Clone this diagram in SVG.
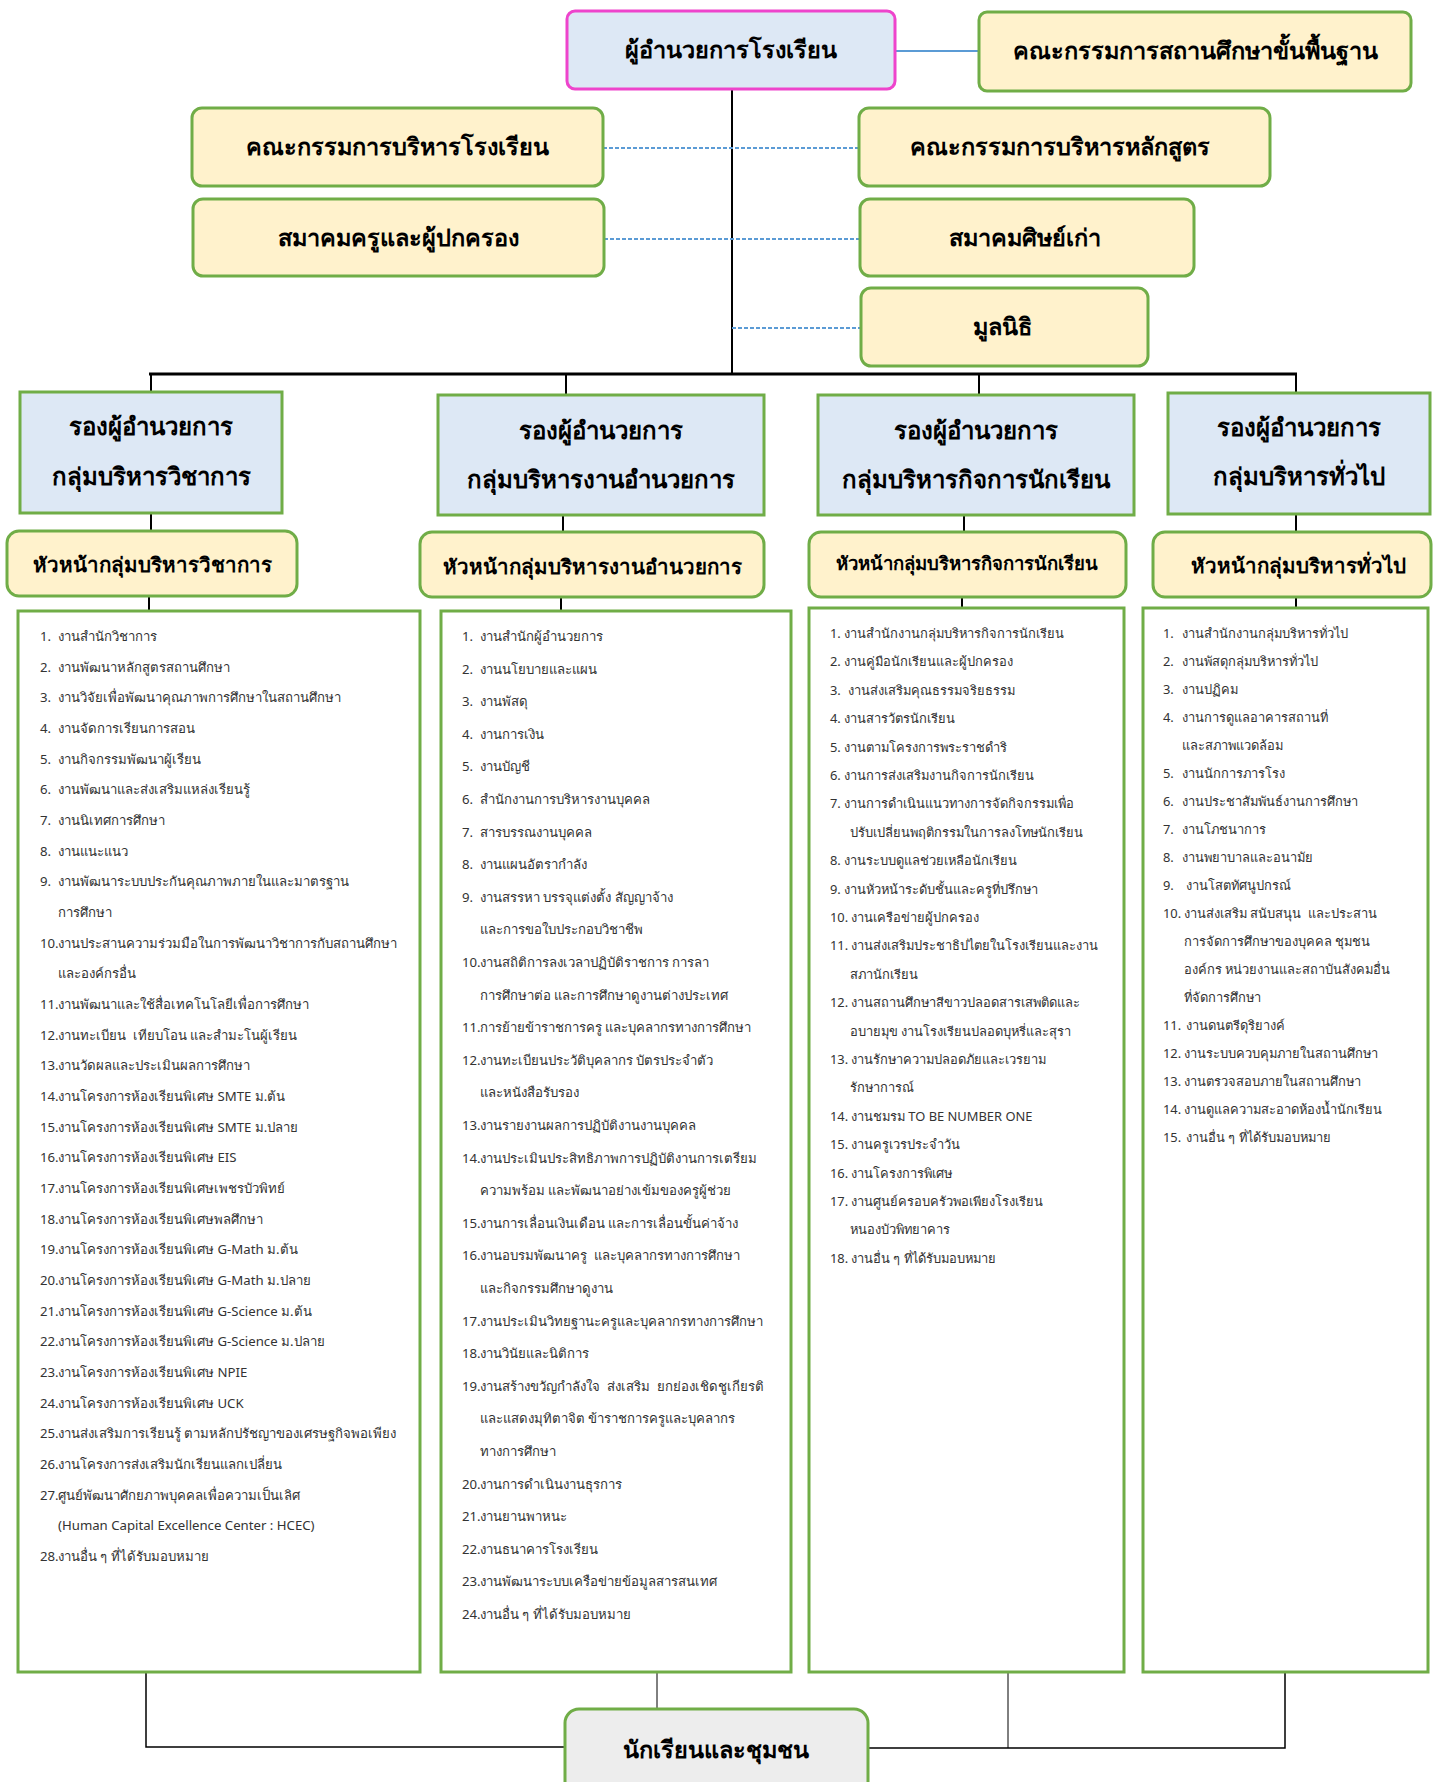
<svg xmlns="http://www.w3.org/2000/svg" width="1433" height="1782" viewBox="0 0 1433 1782">
<style>
.cream{fill:#fff2cc;stroke:#70ad47;stroke-width:3}
.blue{fill:#dde8f5;stroke:#70ad47;stroke-width:3}
.list{fill:#ffffff;stroke:#70ad47;stroke-width:3}
.ln{stroke:#000;stroke-width:2;fill:none}
.dash{stroke:#5b9bd5;stroke-width:2;stroke-dasharray:4 2;fill:none}
.h{font-family:"Noto Sans",sans-serif;font-weight:bold;fill:#000;text-anchor:middle}
.t{font-family:"Noto Sans",sans-serif;fill:#333;font-size:12.9px}
.wide .t{font-size:13.2px}
</style>
<g id="connectors">
<line class="ln" x1="732" y1="89" x2="732" y2="374"/>
<line x1="895" y1="51" x2="979" y2="51" stroke="#5b9bd5" stroke-width="2"/>
<line class="dash" x1="603" y1="148" x2="859" y2="148"/>
<line class="dash" x1="604" y1="239" x2="860" y2="239"/>
<line class="dash" x1="732" y1="328" x2="861" y2="328"/>
<line x1="149" y1="374" x2="1297" y2="374" stroke="#000" stroke-width="3"/>
<line class="ln" x1="151" y1="374" x2="151" y2="392"/>
<line class="ln" x1="566" y1="374" x2="566" y2="395"/>
<line class="ln" x1="979" y1="374" x2="979" y2="395"/>
<line class="ln" x1="1296" y1="374" x2="1296" y2="393"/>
<line class="ln" x1="151" y1="513" x2="151" y2="531"/>
<line class="ln" x1="563" y1="515" x2="563" y2="532"/>
<line class="ln" x1="964" y1="515" x2="964" y2="532"/>
<line class="ln" x1="1296" y1="514" x2="1296" y2="532"/>
<line class="ln" x1="149" y1="596" x2="149" y2="611"/>
<line class="ln" x1="561" y1="597" x2="561" y2="611"/>
<line class="ln" x1="962" y1="597" x2="962" y2="608"/>
<line class="ln" x1="1296" y1="597" x2="1296" y2="608"/>
<polyline points="146,1673 146,1747 565,1747" fill="none" stroke="#000" stroke-width="1.5"/>
<line x1="657" y1="1673" x2="657" y2="1709" stroke="#000" stroke-width="1"/>
<line x1="1008" y1="1673" x2="1008" y2="1748" stroke="#000" stroke-width="1"/>
<polyline points="1285,1673 1285,1748 868,1748" fill="none" stroke="#000" stroke-width="1.5"/>
</g>
<g id="director"><rect x="567" y="11" width="328" height="78" rx="8" fill="#dde8f5" stroke="#ee44cc" stroke-width="3"/><text class="h" x="731" y="58" font-size="23.5">ผู้อำนวยการโรงเรียน</text></g>
<g id="basic-board"><rect class="cream" x="979" y="12" width="432" height="79" rx="8"/><text class="h" x="1195" y="59" font-size="23.5">คณะกรรมการสถานศึกษาขั้นพื้นฐาน</text></g>
<g id="school-board"><rect class="cream" x="192" y="108" width="411" height="78" rx="10"/><text class="h" x="397" y="155" font-size="23.5">คณะกรรมการบริหารโรงเรียน</text></g>
<g id="curriculum-board"><rect class="cream" x="859" y="108" width="411" height="78" rx="10"/><text class="h" x="1060" y="155" font-size="23.5">คณะกรรมการบริหารหลักสูตร</text></g>
<g id="pta"><rect class="cream" x="193" y="199" width="411" height="77" rx="10"/><text class="h" x="398" y="246" font-size="23.5">สมาคมครูและผู้ปกครอง</text></g>
<g id="alumni"><rect class="cream" x="860" y="199" width="334" height="77" rx="10"/><text class="h" x="1025" y="246" font-size="23.5">สมาคมศิษย์เก่า</text></g>
<g id="foundation"><rect class="cream" x="861" y="288" width="287" height="78" rx="10"/><text class="h" x="1002" y="335" font-size="23.5">มูลนิธิ</text></g>

<g id="deputy-academic"><rect class="blue" x="20" y="392" width="262" height="121"/><text class="h" x="151" y="435" font-size="24">รองผู้อำนวยการ</text><text class="h" x="151" y="485" font-size="24">กลุ่มบริหารวิชาการ</text></g>
<g id="deputy-admin"><rect class="blue" x="438" y="395" width="326" height="120"/><text class="h" x="601" y="439" font-size="24">รองผู้อำนวยการ</text><text class="h" x="601" y="488" font-size="24">กลุ่มบริหารงานอำนวยการ</text></g>
<g id="deputy-student"><rect class="blue" x="818" y="395" width="316" height="120"/><text class="h" x="976" y="439" font-size="24">รองผู้อำนวยการ</text><text class="h" x="976" y="488" font-size="24">กลุ่มบริหารกิจการนักเรียน</text></g>
<g id="deputy-general"><rect class="blue" x="1168" y="393" width="262" height="121"/><text class="h" x="1299" y="436" font-size="24">รองผู้อำนวยการ</text><text class="h" x="1299" y="485" font-size="24">กลุ่มบริหารทั่วไป</text></g>

<g id="head-academic"><rect class="cream" x="7" y="531" width="290" height="65" rx="12"/><text class="h" x="152" y="572" font-size="20.5">หัวหน้ากลุ่มบริหารวิชาการ</text></g>
<g id="head-admin"><rect class="cream" x="420" y="532" width="344" height="65" rx="12"/><text class="h" x="592" y="574" font-size="20.5">หัวหน้ากลุ่มบริหารงานอำนวยการ</text></g>
<g id="head-student"><rect class="cream" x="809" y="532" width="317" height="65" rx="12"/><text class="h" x="967" y="570" font-size="18.5">หัวหน้ากลุ่มบริหารกิจการนักเรียน</text></g>
<g id="head-general"><rect class="cream" x="1153" y="532" width="278" height="65" rx="12"/><text class="h" x="1298" y="573" font-size="20.5">หัวหน้ากลุ่มบริหารทั่วไป</text></g>

<g id="list-academic" class="wide"><rect class="list" x="18" y="611" width="402" height="1061"/>
<text class="t" y="641"><tspan x="40">1.</tspan><tspan x="58">งานสำนักวิชาการ</tspan></text>
<text class="t" y="672"><tspan x="40">2.</tspan><tspan x="58">งานพัฒนาหลักสูตรสถานศึกษา</tspan></text>
<text class="t" y="702"><tspan x="40">3.</tspan><tspan x="58">งานวิจัยเพื่อพัฒนาคุณภาพการศึกษาในสถานศึกษา</tspan></text>
<text class="t" y="733"><tspan x="40">4.</tspan><tspan x="58">งานจัดการเรียนการสอน</tspan></text>
<text class="t" y="764"><tspan x="40">5.</tspan><tspan x="58">งานกิจกรรมพัฒนาผู้เรียน</tspan></text>
<text class="t" y="794"><tspan x="40">6.</tspan><tspan x="58">งานพัฒนาและส่งเสริมแหล่งเรียนรู้</tspan></text>
<text class="t" y="825"><tspan x="40">7.</tspan><tspan x="58">งานนิเทศการศึกษา</tspan></text>
<text class="t" y="856"><tspan x="40">8.</tspan><tspan x="58">งานแนะแนว</tspan></text>
<text class="t" y="886"><tspan x="40">9.</tspan><tspan x="58">งานพัฒนาระบบประกันคุณภาพภายในและมาตรฐาน</tspan></text>
<text class="t" y="917" x="58">การศึกษา</text>
<text class="t" y="948"><tspan x="40">10.</tspan><tspan x="58">งานประสานความร่วมมือในการพัฒนาวิชาการกับสถานศึกษา</tspan></text>
<text class="t" y="978" x="58">และองค์กรอื่น</text>
<text class="t" y="1009"><tspan x="40">11.</tspan><tspan x="58">งานพัฒนาและใช้สื่อเทคโนโลยีเพื่อการศึกษา</tspan></text>
<text class="t" y="1040" xml:space="preserve"><tspan x="40">12.</tspan><tspan x="58">งานทะเบียน  เทียบโอน และสำมะโนผู้เรียน</tspan></text>
<text class="t" y="1070"><tspan x="40">13.</tspan><tspan x="58">งานวัดผลและประเมินผลการศึกษา</tspan></text>
<text class="t" y="1101"><tspan x="40">14.</tspan><tspan x="58">งานโครงการห้องเรียนพิเศษ SMTE ม.ต้น</tspan></text>
<text class="t" y="1132"><tspan x="40">15.</tspan><tspan x="58">งานโครงการห้องเรียนพิเศษ SMTE ม.ปลาย</tspan></text>
<text class="t" y="1162"><tspan x="40">16.</tspan><tspan x="58">งานโครงการห้องเรียนพิเศษ EIS</tspan></text>
<text class="t" y="1193"><tspan x="40">17.</tspan><tspan x="58">งานโครงการห้องเรียนพิเศษเพชรบัวพิทย์</tspan></text>
<text class="t" y="1224"><tspan x="40">18.</tspan><tspan x="58">งานโครงการห้องเรียนพิเศษพลศึกษา</tspan></text>
<text class="t" y="1254"><tspan x="40">19.</tspan><tspan x="58">งานโครงการห้องเรียนพิเศษ G-Math ม.ต้น</tspan></text>
<text class="t" y="1285"><tspan x="40">20.</tspan><tspan x="58">งานโครงการห้องเรียนพิเศษ G-Math ม.ปลาย</tspan></text>
<text class="t" y="1316"><tspan x="40">21.</tspan><tspan x="58">งานโครงการห้องเรียนพิเศษ G-Science ม.ต้น</tspan></text>
<text class="t" y="1346"><tspan x="40">22.</tspan><tspan x="58">งานโครงการห้องเรียนพิเศษ G-Science ม.ปลาย</tspan></text>
<text class="t" y="1377"><tspan x="40">23.</tspan><tspan x="58">งานโครงการห้องเรียนพิเศษ NPIE</tspan></text>
<text class="t" y="1408"><tspan x="40">24.</tspan><tspan x="58">งานโครงการห้องเรียนพิเศษ UCK</tspan></text>
<text class="t" y="1438"><tspan x="40">25.</tspan><tspan x="58">งานส่งเสริมการเรียนรู้ ตามหลักปรัชญาของเศรษฐกิจพอเพียง</tspan></text>
<text class="t" y="1469"><tspan x="40">26.</tspan><tspan x="58">งานโครงการส่งเสริมนักเรียนแลกเปลี่ยน</tspan></text>
<text class="t" y="1500"><tspan x="40">27.</tspan><tspan x="58">ศูนย์พัฒนาศักยภาพบุคคลเพื่อความเป็นเลิศ</tspan></text>
<text class="t" y="1530" x="58">(Human Capital Excellence Center : HCEC)</text>
<text class="t" y="1561"><tspan x="40">28.</tspan><tspan x="58">งานอื่น ๆ ที่ได้รับมอบหมาย</tspan></text>
</g>

<g id="list-admin" class="wide"><rect class="list" x="441" y="611" width="350" height="1061"/>
<text class="t" y="641"><tspan x="462">1.</tspan><tspan x="480">งานสำนักผู้อำนวยการ</tspan></text>
<text class="t" y="674"><tspan x="462">2.</tspan><tspan x="480">งานนโยบายและแผน</tspan></text>
<text class="t" y="706"><tspan x="462">3.</tspan><tspan x="480">งานพัสดุ</tspan></text>
<text class="t" y="739"><tspan x="462">4.</tspan><tspan x="480">งานการเงิน</tspan></text>
<text class="t" y="771"><tspan x="462">5.</tspan><tspan x="480">งานบัญชี</tspan></text>
<text class="t" y="804"><tspan x="462">6.</tspan><tspan x="480">สำนักงานการบริหารงานบุคคล</tspan></text>
<text class="t" y="837"><tspan x="462">7.</tspan><tspan x="480">สารบรรณงานบุคคล</tspan></text>
<text class="t" y="869"><tspan x="462">8.</tspan><tspan x="480">งานแผนอัตรากำลัง</tspan></text>
<text class="t" y="902"><tspan x="462">9.</tspan><tspan x="480">งานสรรหา บรรจุแต่งตั้ง สัญญาจ้าง</tspan></text>
<text class="t" y="934" x="480">และการขอใบประกอบวิชาชีพ</text>
<text class="t" y="967"><tspan x="462">10.</tspan><tspan x="480">งานสถิติการลงเวลาปฏิบัติราชการ การลา</tspan></text>
<text class="t" y="1000" x="480">การศึกษาต่อ และการศึกษาดูงานต่างประเทศ</text>
<text class="t" y="1032"><tspan x="462">11.</tspan><tspan x="480">การย้ายข้าราชการครู และบุคลากรทางการศึกษา</tspan></text>
<text class="t" y="1065"><tspan x="462">12.</tspan><tspan x="480">งานทะเบียนประวัติบุคลากร บัตรประจำตัว</tspan></text>
<text class="t" y="1097" x="480">และหนังสือรับรอง</text>
<text class="t" y="1130"><tspan x="462">13.</tspan><tspan x="480">งานรายงานผลการปฏิบัติงานงานบุคคล</tspan></text>
<text class="t" y="1163"><tspan x="462">14.</tspan><tspan x="480">งานประเมินประสิทธิภาพการปฏิบัติงานการเตรียม</tspan></text>
<text class="t" y="1195" x="480">ความพร้อม และพัฒนาอย่างเข้มของครูผู้ช่วย</text>
<text class="t" y="1228"><tspan x="462">15.</tspan><tspan x="480">งานการเลื่อนเงินเดือน และการเลื่อนขั้นค่าจ้าง</tspan></text>
<text class="t" y="1260" xml:space="preserve"><tspan x="462">16.</tspan><tspan x="480">งานอบรมพัฒนาครู  และบุคลากรทางการศึกษา</tspan></text>
<text class="t" y="1293" x="480">และกิจกรรมศึกษาดูงาน</text>
<text class="t" y="1326"><tspan x="462">17.</tspan><tspan x="480">งานประเมินวิทยฐานะครูและบุคลากรทางการศึกษา</tspan></text>
<text class="t" y="1358"><tspan x="462">18.</tspan><tspan x="480">งานวินัยและนิติการ</tspan></text>
<text class="t" y="1391" xml:space="preserve"><tspan x="462">19.</tspan><tspan x="480">งานสร้างขวัญกำลังใจ  ส่งเสริม  ยกย่องเชิดชูเกียรติ</tspan></text>
<text class="t" y="1423" x="480">และแสดงมุทิตาจิต ข้าราชการครูและบุคลากร</text>
<text class="t" y="1456" x="480">ทางการศึกษา</text>
<text class="t" y="1489"><tspan x="462">20.</tspan><tspan x="480">งานการดำเนินงานธุรการ</tspan></text>
<text class="t" y="1521"><tspan x="462">21.</tspan><tspan x="480">งานยานพาหนะ</tspan></text>
<text class="t" y="1554"><tspan x="462">22.</tspan><tspan x="480">งานธนาคารโรงเรียน</tspan></text>
<text class="t" y="1586"><tspan x="462">23.</tspan><tspan x="480">งานพัฒนาระบบเครือข่ายข้อมูลสารสนเทศ</tspan></text>
<text class="t" y="1619"><tspan x="462">24.</tspan><tspan x="480">งานอื่น ๆ ที่ได้รับมอบหมาย</tspan></text>
</g>

<g id="list-student"><rect class="list" x="809" y="608" width="315" height="1064"/>
<text class="t" y="638"><tspan x="830">1.</tspan><tspan x="844">งานสำนักงานกลุ่มบริหารกิจการนักเรียน</tspan></text>
<text class="t" y="666"><tspan x="830">2.</tspan><tspan x="844">งานคู่มือนักเรียนและผู้ปกครอง</tspan></text>
<text class="t" y="695"><tspan x="830">3.</tspan><tspan x="848">งานส่งเสริมคุณธรรมจริยธรรม</tspan></text>
<text class="t" y="723"><tspan x="830">4.</tspan><tspan x="844">งานสารวัตรนักเรียน</tspan></text>
<text class="t" y="752"><tspan x="830">5.</tspan><tspan x="844">งานตามโครงการพระราชดำริ</tspan></text>
<text class="t" y="780"><tspan x="830">6.</tspan><tspan x="844">งานการส่งเสริมงานกิจการนักเรียน</tspan></text>
<text class="t" y="808"><tspan x="830">7.</tspan><tspan x="844">งานการดำเนินแนวทางการจัดกิจกรรมเพื่อ</tspan></text>
<text class="t" y="837" x="850">ปรับเปลี่ยนพฤติกรรมในการลงโทษนักเรียน</text>
<text class="t" y="865"><tspan x="830">8.</tspan><tspan x="844">งานระบบดูแลช่วยเหลือนักเรียน</tspan></text>
<text class="t" y="894"><tspan x="830">9.</tspan><tspan x="844">งานหัวหน้าระดับชั้นและครูที่ปรึกษา</tspan></text>
<text class="t" y="922"><tspan x="830">10.</tspan><tspan x="851">งานเครือข่ายผู้ปกครอง</tspan></text>
<text class="t" y="950"><tspan x="830">11.</tspan><tspan x="851">งานส่งเสริมประชาธิปไตยในโรงเรียนและงาน</tspan></text>
<text class="t" y="979" x="850">สภานักเรียน</text>
<text class="t" y="1007"><tspan x="830">12.</tspan><tspan x="851">งานสถานศึกษาสีขาวปลอดสารเสพติดและ</tspan></text>
<text class="t" y="1036" x="850">อบายมุข งานโรงเรียนปลอดบุหรี่และสุรา</text>
<text class="t" y="1064"><tspan x="830">13.</tspan><tspan x="851">งานรักษาความปลอดภัยและเวรยาม</tspan></text>
<text class="t" y="1092" x="850">รักษาการณ์</text>
<text class="t" y="1121"><tspan x="830">14.</tspan><tspan x="851">งานชมรม TO BE NUMBER ONE</tspan></text>
<text class="t" y="1149"><tspan x="830">15.</tspan><tspan x="851">งานครูเวรประจำวัน</tspan></text>
<text class="t" y="1178"><tspan x="830">16.</tspan><tspan x="851">งานโครงการพิเศษ</tspan></text>
<text class="t" y="1206"><tspan x="830">17.</tspan><tspan x="851">งานศูนย์ครอบครัวพอเพียงโรงเรียน</tspan></text>
<text class="t" y="1234" x="850">หนองบัวพิทยาคาร</text>
<text class="t" y="1263"><tspan x="830">18.</tspan><tspan x="851">งานอื่น ๆ ที่ได้รับมอบหมาย</tspan></text>
</g>

<g id="list-general"><rect class="list" x="1143" y="608" width="285" height="1064"/>
<text class="t" y="638"><tspan x="1163">1.</tspan><tspan x="1182">งานสำนักงานกลุ่มบริหารทั่วไป</tspan></text>
<text class="t" y="666"><tspan x="1163">2.</tspan><tspan x="1182">งานพัสดุกลุ่มบริหารทั่วไป</tspan></text>
<text class="t" y="694"><tspan x="1163">3.</tspan><tspan x="1182">งานปฏิคม</tspan></text>
<text class="t" y="722"><tspan x="1163">4.</tspan><tspan x="1182">งานการดูแลอาคารสถานที่</tspan></text>
<text class="t" y="750" x="1182">และสภาพแวดล้อม</text>
<text class="t" y="778"><tspan x="1163">5.</tspan><tspan x="1182">งานนักการภารโรง</tspan></text>
<text class="t" y="806"><tspan x="1163">6.</tspan><tspan x="1182">งานประชาสัมพันธ์งานการศึกษา</tspan></text>
<text class="t" y="834"><tspan x="1163">7.</tspan><tspan x="1182">งานโภชนาการ</tspan></text>
<text class="t" y="862"><tspan x="1163">8.</tspan><tspan x="1182">งานพยาบาลและอนามัย</tspan></text>
<text class="t" y="890"><tspan x="1163">9.</tspan><tspan x="1186">งานโสตทัศนูปกรณ์</tspan></text>
<text class="t" y="918" xml:space="preserve"><tspan x="1163">10.</tspan><tspan x="1184">งานส่งเสริม สนับสนุน  และประสาน</tspan></text>
<text class="t" y="946" x="1184">การจัดการศึกษาของบุคคล ชุมชน</text>
<text class="t" y="974" x="1184">องค์กร หน่วยงานและสถาบันสังคมอื่น</text>
<text class="t" y="1002" x="1184">ที่จัดการศึกษา</text>
<text class="t" y="1030"><tspan x="1163">11.</tspan><tspan x="1186">งานดนตรีดุริยางค์</tspan></text>
<text class="t" y="1058"><tspan x="1163">12.</tspan><tspan x="1184">งานระบบควบคุมภายในสถานศึกษา</tspan></text>
<text class="t" y="1086"><tspan x="1163">13.</tspan><tspan x="1184">งานตรวจสอบภายในสถานศึกษา</tspan></text>
<text class="t" y="1114"><tspan x="1163">14.</tspan><tspan x="1184">งานดูแลความสะอาดห้องน้ำนักเรียน</tspan></text>
<text class="t" y="1142"><tspan x="1163">15.</tspan><tspan x="1186">งานอื่น ๆ ที่ได้รับมอบหมาย</tspan></text>
</g>

<g id="students-community"><rect x="565" y="1709" width="303" height="95" rx="14" fill="#ededed" stroke="#70ad47" stroke-width="3"/><text class="h" x="716" y="1758" font-size="23.5">นักเรียนและชุมชน</text></g>
</svg>
